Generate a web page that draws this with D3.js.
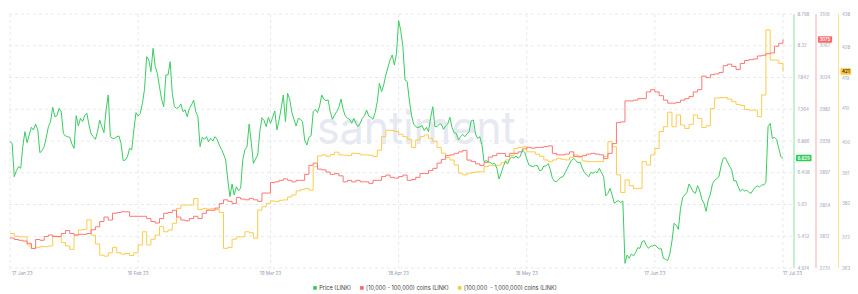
<!DOCTYPE html>
<html>
<head>
<meta charset="utf-8" />
<title>LINK holders</title>
<script src="https://d3js.org/d3.v7.min.js"></script>
<style>
  body { margin: 0; background: #fff; }
  text { font-family: Inter, "Open Sans", sans-serif; }
</style>
</head>
<body>
<svg></svg>
<script>
// price (LINK), every 12h from 17 Jan 23
const price = [
6.876,6.851,6.349,6.439,6.500,6.475,6.801,7.027,6.861,6.976,
7.092,7.052,7.142,7.052,6.710,6.741,6.801,6.941,7.102,7.177,
7.393,7.252,7.267,7.378,7.328,7.001,6.961,6.951,6.941,6.841,
6.776,7.267,7.112,7.227,7.177,7.272,7.303,7.127,6.991,6.951,
6.911,7.027,7.202,7.102,7.012,7.353,7.579,6.951,6.926,6.926,
6.951,6.961,6.851,6.590,6.600,6.650,6.776,6.751,7.052,7.313,
7.262,7.303,7.453,7.664,8.156,8.106,7.930,8.281,8.005,7.905,
7.704,7.513,7.403,7.880,7.880,8.080,7.604,7.403,7.378,7.393,
7.443,7.328,7.353,7.252,7.378,7.428,7.503,7.328,7.252,6.801,
6.941,6.911,6.951,6.876,6.926,6.886,6.951,6.911,6.826,6.761,
6.690,6.600,6.299,6.048,6.239,6.073,6.198,6.138,6.173,6.600,
6.751,6.801,7.142,6.861,6.550,6.615,6.675,7.027,7.237,7.192,
7.102,7.242,7.152,7.242,7.338,7.052,7.202,7.378,7.579,7.177,
7.604,7.513,7.318,7.212,7.112,7.227,7.212,7.177,6.901,6.826,
6.941,6.966,7.328,7.363,7.313,7.413,7.579,7.513,7.493,7.503,
7.328,7.212,7.277,7.328,7.393,7.518,7.363,7.267,7.227,7.217,
7.152,7.227,7.152,7.102,7.152,7.227,7.267,7.353,7.262,7.242,
7.212,7.313,7.478,7.754,7.629,7.729,7.880,7.995,8.106,8.181,
8.030,8.206,8.698,8.547,8.306,7.804,7.779,7.503,7.277,7.142,
7.102,7.087,7.102,7.117,7.042,7.092,7.027,7.242,7.403,7.102,
7.102,7.142,7.142,7.062,7.112,7.142,7.242,7.087,7.012,7.001,
6.901,6.951,6.986,6.951,6.991,7.027,7.192,7.202,6.991,6.926,
6.951,6.831,6.575,6.590,6.575,6.560,6.540,6.550,6.475,6.314,
6.399,6.500,6.585,6.540,6.615,6.645,6.630,6.660,6.625,6.660,
6.751,6.720,6.615,6.525,6.510,6.500,6.520,6.515,6.439,6.449,
6.510,6.510,6.545,6.460,6.324,6.279,6.274,6.309,6.339,6.349,
6.409,6.475,6.540,6.600,6.625,6.590,6.555,6.570,6.475,6.414,
6.374,6.349,6.414,6.399,6.424,6.409,6.475,6.409,6.349,6.058,
6.098,6.173,6.073,5.948,5.973,5.988,5.958,5.983,5.044,5.170,
5.120,5.185,5.155,5.210,5.280,5.270,5.370,5.386,5.315,5.270,
5.305,5.305,5.320,5.290,5.260,5.265,5.120,5.105,5.084,5.185,
5.380,5.646,5.621,5.556,5.872,6.033,6.073,6.113,6.239,6.183,
6.118,6.098,6.214,6.133,6.008,5.948,5.827,5.998,6.088,6.244,
6.294,6.319,6.349,6.510,6.625,6.635,6.570,6.505,6.449,6.284,
6.289,6.198,6.128,6.163,6.133,6.148,6.113,6.098,6.148,6.188,
6.209,6.193,6.224,6.224,6.264,7.102,7.152,6.926,6.941,6.911,
6.776,6.650,6.629
];

// [10,000 - 100,000) coins holders, daily from 17 Jan 23
const holders10k = [
2810,2808,2807,2806,2803,2796,2808,2807,2812,2814,2812,2812,2816,2820,2816,2814,2815,2815,2816,2821,
2825,2832,2838,2834,2843,2844,2845,2845,2839,2839,2839,2839,2836,2832,2830,2836,2843,2844,2847,2838,
2834,2833,2836,2839,2836,2843,2847,2847,2850,2856,2861,2859,2856,2864,2862,2861,2863,2861,2859,2870,
2870,2884,2885,2887,2889,2887,2885,2887,2887,2895,2907,2910,2902,2901,2898,2895,2896,2893,2885,2887,
2885,2887,2885,2885,2883,2887,2887,2892,2894,2891,2890,2892,2894,2887,2888,2891,2896,2896,2900,2903,
2910,2915,2920,2921,2923,2925,2927,2914,2912,2909,2907,2911,2918,2920,2923,2923,2919,2923,2923,2925,
2929,2931,2930,2931,2931,2932,2933,2923,2921,2921,2922,2925,2919,2919,2920,2922,2923,2922,2921,2916,
2923,2936,2964,2965,2993,2993,2994,2996,2996,3005,3008,3005,3000,2994,2990,2990,2991,2994,2996,2999,
3005,3008,3026,3024,3028,3029,3031,3040,3042,3039,3035,3043,3047,3048,3049,3053,3054,3056,3057,3066,
3070,3075
];

// [100,000 - 1,000,000) coins holders, daily from 17 Jan 23
const holders100k = [
373.2,372.4,372.2,372.2,369.8,368.8,369.1,369.3,369.3,369.5,372.4,372.2,370.5,369.5,368.5,372.7,374.2,374.4,377.2,372.7,
370.1,366.8,366.5,367.5,369.1,367.5,367.1,367.3,366.7,367.5,369.8,373.7,369.8,371.5,372.7,375.2,373.7,374.2,376.2,380.6,
381.6,381.6,381.6,383.5,380.3,380.6,380.4,380.5,380.3,379.4,368.8,369.1,371.5,372.2,372.2,373.7,373.4,371.8,380.1,381.1,
382.1,382.8,382.6,383.0,383.1,384.0,384.6,385.8,386.2,386.5,386.0,392.9,396.1,396.4,396.0,396.5,397.2,396.4,396.3,396.2,
396.9,396.8,396.4,396.4,396.3,395.9,397.8,401.8,403.7,403.6,403.3,402.5,401.8,401.0,398.6,400.8,401.8,402.3,401.3,400.4,
398.6,396.9,395.6,394.9,393.4,391.0,390.5,391.0,391.2,391.4,391.4,393.0,393.3,393.2,393.4,394.1,394.9,396.2,398.3,398.6,
398.8,397.3,397.3,396.6,396.0,394.9,394.4,394.9,395.4,395.1,394.9,395.7,396.4,395.7,394.6,394.4,394.4,394.4,394.4,395.9,
400.3,398.8,390.5,385.3,389.0,387.3,386.4,386.5,394.4,393.4,396.4,398.3,403.3,404.7,409.0,404.7,408.2,405.2,404.2,405.4,
408.2,407.2,404.5,405.0,410.1,413.2,413.3,413.3,412.9,412.1,411.3,411.0,409.8,409.6,409.6,407.7,414.1,433.3,424.4,424.4,
423.4,421
];

const priceTicks = [8.798, 8.32, 7.842, 7.364, 6.886, 6.408, 5.93, 5.452, 4.974];
const redTicks = [3109, 3067, 3024, 2982, 2939, 2897, 2854, 2812, 2770];
const yellowTicks = [438, 428, 419, 410, 400, 391, 382, 372, 363];
const xTickDates = ["2023-01-17","2023-02-16","2023-03-19","2023-04-18","2023-05-18","2023-06-17","2023-07-17"];
const xTickLabels = ["17 Jan 23","16 Feb 23","19 Mar 23","18 Apr 23","18 May 23","17 Jun 23","17 Jul 23"];
const legendLabels = ["Price (LINK)", "[10,000 - 100,000) coins (LINK)", "[100,000  - 1,000,000) coins (LINK)"];

const green = "#3acd61", red = "#ff7676", yellow = "#ffcb4c";

const width = 858, height = 294;
const plotTop = 14, plotBottom = 268, plotLeft = 9, plotRight = 794;
const t0 = Date.UTC(2023, 0, 17);
const HOUR = 3600e3;

const svg = d3.select("svg").attr("width", width).attr("height", height);

const x = d3.scaleUtc()
  .domain([new Date(t0), new Date(Date.UTC(2023, 6, 17))])
  .range([10, 783]);
const yP = d3.scaleLinear().domain([4.974, 8.798]).range([plotBottom, plotTop]);
const yR = d3.scaleLinear().domain([2770, 3109]).range([plotBottom, plotTop]);
const yY = d3.scaleLinear().domain([363, 438]).range([plotBottom, plotTop]);

// watermark
svg.append("text")
  .attr("x", 317).attr("y", 144)
  .attr("font-size", 46)
  .attr("textLength", 211).attr("lengthAdjust", "spacingAndGlyphs")
  .attr("fill", "#e6e9f2")
  .text("santiment.");

// grid
svg.append("g").selectAll("line").data(priceTicks).join("line")
  .attr("x1", plotLeft).attr("x2", plotRight)
  .attr("y1", d => yP(d)).attr("y2", d => yP(d))
  .attr("stroke", "#e7e9ee").attr("stroke-dasharray", "3,3");

svg.append("g").selectAll("line").data(xTickDates).join("line")
  .attr("x1", d => x(new Date(d))).attr("x2", d => x(new Date(d)))
  .attr("y1", plotTop).attr("y2", plotBottom)
  .attr("stroke", "#e7e9ee").attr("stroke-dasharray", "3,3");

// x labels
svg.append("g").selectAll("text").data(xTickDates).join("text")
  .attr("x", (d, i) => x(new Date(d)) + (i === 0 ? 2 : 0))
  .attr("y", 275)
  .attr("text-anchor", (d, i) => (i === 0 || i === xTickDates.length - 1) ? "start" : "middle")
  .attr("font-size", 4.6).attr("fill", "#8d97b0")
  .text((d, i) => xTickLabels[i]);

// series
const dayLine = (scale) => d3.line()
  .x((d, i) => x(new Date(t0 + i * 24 * HOUR)))
  .y(d => scale(d))
  .curve(d3.curveStepAfter);

svg.append("path").datum(holders100k)
  .attr("d", dayLine(yY))
  .attr("fill", "none").attr("stroke", yellow).attr("stroke-width", 1);

svg.append("path").datum(holders10k)
  .attr("d", dayLine(yR))
  .attr("fill", "none").attr("stroke", red).attr("stroke-width", 1);

svg.append("path").datum(price)
  .attr("d", d3.line()
    .x((d, i) => x(new Date(t0 + i * 12 * HOUR)))
    .y(d => yP(d)))
  .attr("fill", "none").attr("stroke", green).attr("stroke-width", 1);

// right axes
const axes = [
  { x: 794, scale: yP, ticks: priceTicks, color: "#8fe0a6", last: price[price.length - 1], fill: "#2fcb5a", ink: "#fff" },
  { x: 816, scale: yR, ticks: redTicks, color: "#ffa9a9", last: holders10k[holders10k.length - 1], fill: "#ff6464", ink: "#fff" },
  { x: 838.5, scale: yY, ticks: yellowTicks, color: "#ffe08c", last: holders100k[holders100k.length - 1], fill: "#ffc53d", ink: "#2b2b2b" }
];

axes.forEach(a => {
  const g = svg.append("g");
  g.append("line")
    .attr("x1", a.x).attr("x2", a.x).attr("y1", plotTop).attr("y2", plotBottom)
    .attr("stroke", a.color).attr("stroke-width", 1);
  g.selectAll("text.tick").data(a.ticks).join("text")
    .attr("class", "tick")
    .attr("x", a.x + 3.5).attr("y", d => a.scale(d))
    .attr("dy", "0.35em")
    .attr("font-size", 4.4).attr("fill", "#98a1b8")
    .text(d => d);
  const yl = a.scale(a.last);
  const box = g.append("rect").attr("rx", 0.8).attr("fill", a.fill);
  const lbl = g.append("text")
    .attr("x", a.x + 3.5).attr("y", yl).attr("dy", "0.35em")
    .attr("font-size", 4.4).attr("fill", a.ink).attr("font-weight", 600)
    .text(a.last);
  const bb = lbl.node().getBBox();
  box.attr("x", bb.x - 1.5).attr("y", yl - 3.2)
    .attr("width", bb.width + 3).attr("height", 6.4);
});

// legend
const legend = svg.append("g");
const colors = ["#2fcb5a", "#ff6464", "#ffc53d"];
let lx = 0;
legendLabels.forEach((t, i) => {
  const item = legend.append("g").attr("transform", `translate(${lx},0)`);
  item.append("rect").attr("x", 0).attr("y", -1.9).attr("width", 3.6).attr("height", 3.6).attr("fill", colors[i]);
  const tx = item.append("text").attr("x", 6).attr("y", 0).attr("dy", "0.35em")
    .attr("font-size", 5.6).attr("fill", "#3d3d3d")
    .style("white-space", "pre").text(t);
  lx += 6 + tx.node().getComputedTextLength() + 9;
});
const lw = lx - 9;
legend.attr("transform", `translate(${435 - lw / 2},288)`);
</script>
</body>
</html>
